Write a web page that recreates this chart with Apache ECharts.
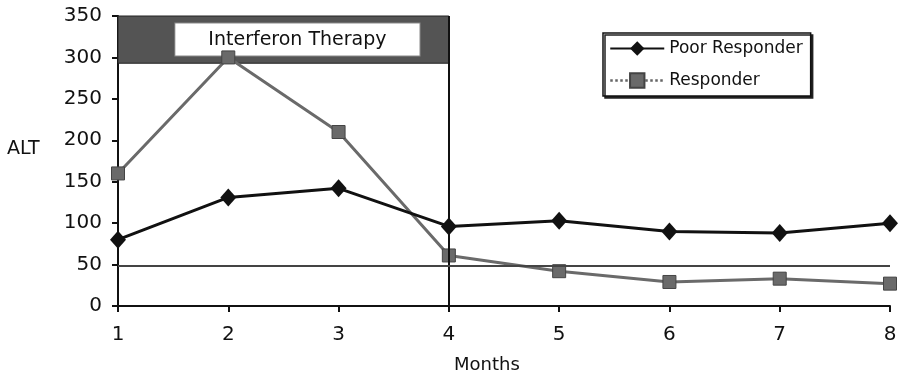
<!DOCTYPE html>
<html>
<head>
<meta charset="utf-8">
<script src="https://cdn.jsdelivr.net/npm/echarts@6/dist/echarts.min.js"></script>
<style>
  html, body { margin: 0; padding: 0; background: #fff; }
  #chart { width: 900px; height: 377px; }
</style>
</head>
<body>
<div id="chart"></div>
<script>
// ALT levels by month
const months = [1, 2, 3, 4, 5, 6, 7, 8];
const poorResponder = [80, 131, 142, 96, 103, 90, 88, 100];
const responder = [160, 300, 210, 61, 42, 29, 33, 27];
const yTicks = [0, 50, 100, 150, 200, 250, 300, 350];
const normalLimit = 48;
const therapyStart = 1;
const therapyEnd = 4;
const therapyBand = [293, 350];
const therapyLabel = 'Interferon Therapy';

const FONT = 'DejaVu Sans';
const pairs = vals => months.map((m, i) => [m, vals[i]]);

const chart = echarts.init(document.getElementById('chart'), null, { renderer: 'canvas' });

chart.setOption({
  animation: false,
  backgroundColor: '#fff',
  textStyle: { fontFamily: FONT, color: '#111' },
  grid: { left: 118, right: 10, top: 16, bottom: 71, containLabel: false },
  legend: {
    orient: 'vertical',
    left: 603,
    top: 33,
    padding: [7, 8, 7, 6],
    itemGap: 15,
    itemWidth: 54,
    itemHeight: 18,
    backgroundColor: '#fff',
    borderColor: '#111',
    borderWidth: 1.5,
    borderRadius: 0,
    shadowColor: '#222',
    shadowOffsetX: 2,
    shadowOffsetY: 2,
    shadowBlur: 0,
    textStyle: { fontFamily: FONT, fontSize: 17, color: '#111' },
    data: [
      { name: 'Poor Responder' },
      { name: 'Responder', lineStyle: { type: 'dotted', width: 2.5, color: '#666' } }
    ]
  },
  xAxis: {
    type: 'value',
    min: 1,
    max: 8,
    interval: 1,
    axisLine: { show: true, lineStyle: { color: '#111', width: 2 } },
    axisTick: { show: true, length: 6, lineStyle: { color: '#111', width: 2 } },
    axisLabel: { fontFamily: FONT, fontSize: 20, color: '#111', margin: 19 },
    splitLine: { show: false }
  },
  yAxis: {
    type: 'value',
    min: yTicks[0],
    max: yTicks[yTicks.length - 1],
    interval: 50,
    axisLine: { show: true, lineStyle: { color: '#111', width: 2 } },
    axisTick: { show: true, length: 6, lineStyle: { color: '#111', width: 2 } },
    axisLabel: { fontFamily: FONT, fontSize: 20, color: '#111', margin: 16 },
    splitLine: { show: false }
  },
  graphic: [
    { type: 'text', left: 7, top: 140, style: { text: 'ALT', font: '19px "DejaVu Sans"', fill: '#111' } },
    { type: 'text', left: 454, top: 356, style: { text: 'Months', font: '18px "DejaVu Sans"', fill: '#111' } }
  ],
  series: [
    {
      name: 'Poor Responder',
      type: 'line',
      data: pairs(poorResponder),
      symbol: 'diamond',
      symbolSize: [16, 18],
      z: 4,
      lineStyle: { color: '#111', width: 3 },
      itemStyle: { color: '#111' },
      markLine: {
        silent: true,
        symbol: 'none',
        label: { show: false },
        data: [
          { xAxis: therapyEnd, lineStyle: { color: '#111', width: 2, type: 'solid' } }
        ]
      },
      markArea: {
        silent: true,
        itemStyle: { color: '#545454', borderColor: '#222', borderWidth: 1 },
        label: {
          show: true,
          position: 'inside',
          offset: [14, 0],
          fontFamily: FONT,
          fontSize: 19,
          color: '#111',
          backgroundColor: '#fff',
          borderColor: '#888',
          borderWidth: 1,
          padding: [7, 33, 6, 33]
        },
        data: [[
          { name: therapyLabel, coord: [therapyStart, therapyBand[1]] },
          { coord: [therapyEnd, therapyBand[0]] }
        ]]
      }
    },
    {
      name: 'Responder',
      type: 'line',
      data: pairs(responder),
      symbol: 'rect',
      symbolSize: 13,
      z: 3,
      lineStyle: { color: '#6a6a6a', width: 3 },
      itemStyle: { color: '#6a6a6a', borderColor: '#444', borderWidth: 1 },
      markLine: {
        silent: true,
        symbol: 'none',
        label: { show: false },
        data: [
          { yAxis: normalLimit, lineStyle: { color: '#444', width: 2, type: 'solid' } }
        ]
      }
    }
  ]
});
</script>
</body>
</html>
